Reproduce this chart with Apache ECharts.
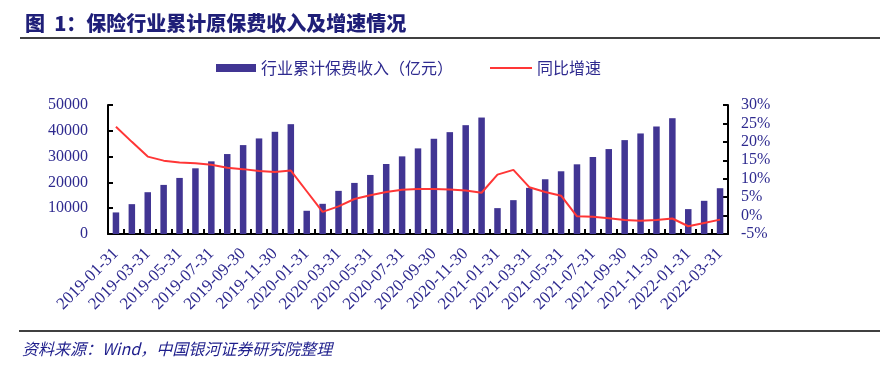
<!DOCTYPE html>
<html>
<head>
<meta charset="utf-8">
<script src="https://cdn.jsdelivr.net/npm/echarts@6/dist/echarts.min.js"></script>
<style>
html,body{margin:0;padding:0;background:#fff;}
#chart{width:891px;height:371px;}
</style>
</head>
<body>
<div id="chart"></div>
<script>
var categories = [
  '2019-01-31','2019-02-28','2019-03-31','2019-04-30','2019-05-31','2019-06-30','2019-07-31','2019-08-31','2019-09-30','2019-10-31','2019-11-30','2019-12-31',
  '2020-01-31','2020-02-29','2020-03-31','2020-04-30','2020-05-31','2020-06-30','2020-07-31','2020-08-31','2020-09-30','2020-10-31','2020-11-30','2020-12-31',
  '2021-01-31','2021-02-28','2021-03-31','2021-04-30','2021-05-31','2021-06-30','2021-07-31','2021-08-31','2021-09-30','2021-10-31','2021-11-30','2021-12-31',
  '2022-01-31','2022-02-28','2022-03-31'
];
var premium = [
  8360,11570,16200,19030,21730,25460,28160,30990,34460,37040,39610,42570,
  9000,11700,16720,19800,22890,27130,30090,33180,36910,39480,42180,45140,
  10030,13120,17880,21220,24310,27010,29840,32920,36390,38970,41670,44880,
  9650,12860,17750
];
var growth = [
  24.1,20.0,16.0,14.9,14.4,14.2,13.8,13.0,12.6,12.1,11.8,12.2,
  6.6,1.0,2.5,4.5,5.5,6.4,7.0,7.2,7.2,7.1,6.8,6.2,
  11.1,12.4,7.7,6.4,5.4,-0.2,-0.3,-0.7,-1.2,-1.4,-1.2,-0.8,
  -2.9,-2.0,-1.1
];
var seriesNames = ['行业累计保费收入（亿元）', '同比增速'];
var titleText = '图  1：保险行业累计原保费收入及增速情况';
var sourceText = '资料来源：Wind，中国银河证券研究院整理';

var navy = '#2e2a8f';
var serif = '"Liberation Serif","Times New Roman",serif';
var legendText = {fontFamily:'"Noto Sans CJK SC"', fontSize:16, color:navy, lineHeight:20};
var chart = echarts.init(document.getElementById('chart'), null, {renderer:'canvas'});
chart.setOption({
  animation:false,
  backgroundColor:'#fff',
  title:{
    text:titleText, left:20, top:8,
    textStyle:{fontFamily:'"Noto Sans CJK SC"', fontWeight:900, fontSize:20, color:'#1f1f78'}
  },
  legend:[{
    data:[{name:seriesNames[0], icon:'rect'}],
    left:216, top:58, itemWidth:40, itemHeight:8, padding:0,
    textStyle:legendText
  },{
    data:[{name:seriesNames[1], icon:'rect'}],
    left:490, top:58, itemWidth:42, itemHeight:2, padding:0,
    textStyle:legendText
  }],
  grid:{left:108, right:163, top:105, bottom:137, containLabel:false},
  xAxis:{
    type:'category', data:categories,
    axisLine:{lineStyle:{color:'#000', width:2}},
    axisTick:{show:true, inside:true, interval:0, length:5, lineStyle:{color:'#000', width:2}},
    axisLabel:{interval:1, rotate:45, fontFamily:serif, fontSize:17, color:navy, margin:17},
    splitLine:{show:false}
  },
  yAxis:[{
    type:'value', min:0, max:50000, interval:10000,
    axisLine:{show:true, lineStyle:{color:'#000', width:2}},
    axisTick:{show:true, inside:true, length:5, lineStyle:{color:'#000', width:2}},
    axisLabel:{fontFamily:serif, fontSize:16, color:navy, margin:20, formatter:function(v){return String(v);}},
    splitLine:{show:false}
  },{
    type:'value', min:-5, max:30, interval:5, position:'right',
    axisLine:{show:true, lineStyle:{color:'#000', width:2}},
    axisTick:{show:true, inside:true, length:5, lineStyle:{color:'#000', width:2}},
    axisLabel:{fontFamily:serif, fontSize:16, color:navy, margin:13, formatter:'{value}%'},
    splitLine:{show:false}
  }],
  series:[{
    name:seriesNames[0], type:'bar', data:premium, yAxisIndex:0,
    barWidth:6.5, itemStyle:{color:'#413593'}
  },{
    name:seriesNames[1], type:'line', data:growth, yAxisIndex:1,
    symbol:'none', lineStyle:{color:'#ff3636', width:2}, itemStyle:{color:'#ff3636'}
  }],
  graphic:[
    {type:'line', shape:{x1:20, y1:38, x2:880, y2:38}, style:{stroke:'#000', lineWidth:1.5}},
    {type:'line', shape:{x1:19, y1:331, x2:880, y2:331}, style:{stroke:'#000', lineWidth:1.5}},
    {type:'text', left:22, top:341, style:{text:sourceText, fontFamily:'"Noto Sans CJK SC"', fontStyle:'italic', fontSize:16, fill:'#1e1e8c'}}
  ]
});
</script>
</body>
</html>
